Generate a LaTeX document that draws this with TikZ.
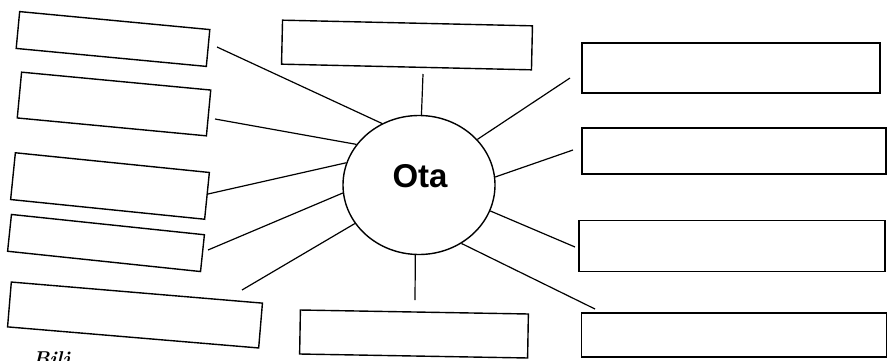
\documentclass[tikz,border=0pt]{standalone}
\usepackage{fontspec}
\newfontfamily\otafont{Liberation Sans}
\usetikzlibrary{shapes.geometric}

\begin{document}
\begin{tikzpicture}[x=1pt,y=1pt,
  answerbox/.style={draw, line width=1.4pt, rectangle, inner sep=0pt},
  spoke/.style={line width=1.2pt}]
  \useasboundingbox (0,0) rectangle (888,360);
  % Centre word
  \node[draw, ellipse, line width=1.4pt, minimum width=152, minimum height=139] (ota) at (419,175) {};
  \node[font=\otafont\bfseries\fontsize{33}{36}\selectfont] (otaword) at (420,184) {Ota};
  % Left boxes
  \node[answerbox, minimum width=191, minimum height=37, rotate=-5.4] (left1) at (113,321) {};
  \node[answerbox, minimum width=190, minimum height=46, rotate=-5.4] (left2) at (114,256) {};
  \node[answerbox, minimum width=195, minimum height=47, rotate=-5.8] (left3) at (110,174) {};
  \node[answerbox, minimum width=194, minimum height=37, rotate=-6] (left4) at (106,117) {};
  \node[answerbox, minimum width=252, minimum height=45, rotate=-4.8] (left5) at (135,45) {};
  % Top and bottom boxes
  \node[answerbox, minimum width=250, minimum height=44, rotate=-1.3] (top) at (407,315) {};
  \node[answerbox, minimum width=228, minimum height=44, rotate=-1] (bottom) at (414,26) {};
  % Right boxes
  \node[answerbox, minimum width=298, minimum height=50] (right1) at (731,292) {};
  \node[answerbox, minimum width=304, minimum height=46] (right2) at (734,209) {};
  \node[answerbox, minimum width=306, minimum height=51] (right3) at (732,114) {};
  \node[answerbox, minimum width=305, minimum height=44] (right4) at (734,25) {};
  % Free ends of the spokes
  \coordinate (l1end) at (217,313);
  \coordinate (l2end) at (215,241);
  \coordinate (l3end) at (208,166);
  \coordinate (l4end) at (208,110);
  \coordinate (l5end) at (242,70);
  \coordinate (topend) at (423,286);
  \coordinate (botend) at (415,60);
  \coordinate (r1end) at (570,282);
  \coordinate (r2end) at (573,210);
  \coordinate (r3end) at (575,113);
  \coordinate (r4end) at (595,51);
  % Spokes
  \draw[spoke] (ota.121) -- (l1end);
  \draw[spoke] (ota.147) -- (l2end);
  \draw[spoke] (ota.163) -- (l3end);
  \draw[spoke] (ota.186) -- (l4end);
  \draw[spoke] (ota.211) -- (l5end);
  \draw[spoke] (ota.88) -- (topend);
  \draw[spoke] (ota.267) -- (botend);
  \draw[spoke] (ota.38) -- (r1end);
  \draw[spoke] (ota.6) -- (r2end);
  \draw[spoke] (ota.-20) -- (r3end);
  \draw[spoke] (ota.-54) -- (r4end);
  % Cut-off caption
  \node[anchor=base west, inner sep=0pt, font=\bfseries\itshape\fontsize{20}{20}\selectfont] (caption) at (33,-5) {Bilj};
\end{tikzpicture}
\end{document}
